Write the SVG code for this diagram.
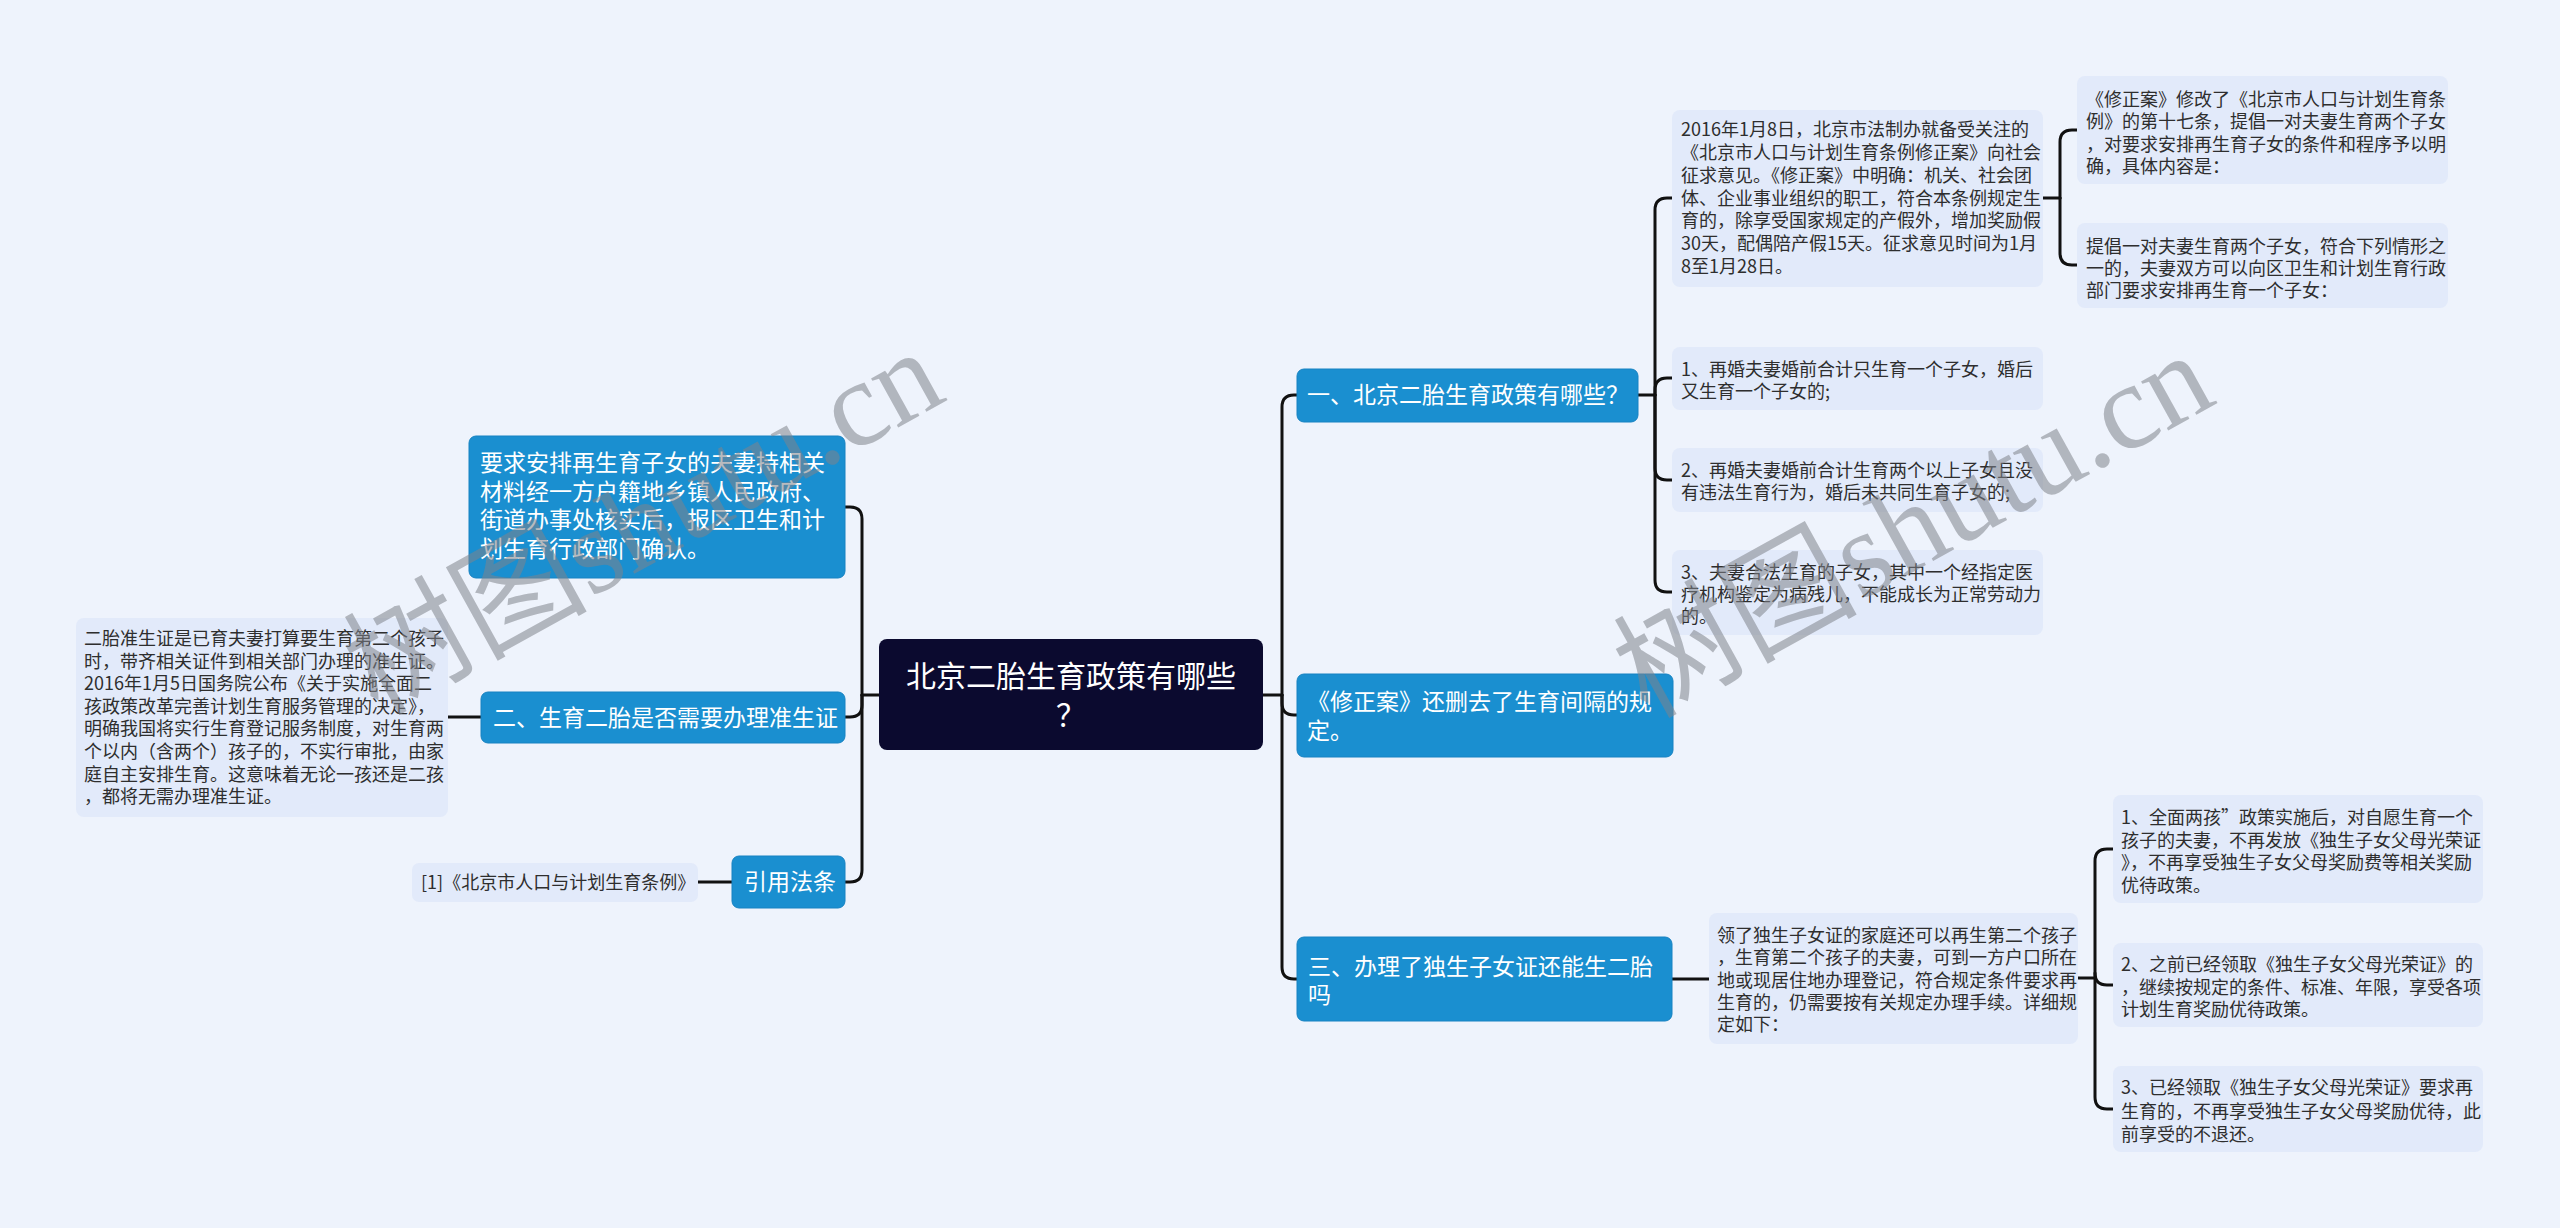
<svg xmlns="http://www.w3.org/2000/svg" width="2560" height="1228" viewBox="0 0 2560 1228">
<style>
.bg{fill:#eef3fc}
.root rect{fill:#0b0a2f}
.blue rect{fill:#1a8fd0;stroke:#1682c2;stroke-width:1}
.leaf rect{fill:#e2eafa}
text{font-family:"Noto Sans CJK SC","Liberation Sans",sans-serif}
.tr{font-size:30px;fill:#ffffff}
.tb{font-size:23px;fill:#ffffff}
.tl{font-size:18px;fill:#2e2e2e}
.conn path{fill:none;stroke:#111111;stroke-width:3;stroke-linecap:round}
.wm{font-family:"Liberation Serif","Noto Sans CJK SC",serif;font-size:122px;fill:#7f838b;fill-opacity:0.55}
</style>
<rect class="bg" x="0" y="0" width="2560" height="1228"/>

<g class="conn" id="connectors">
  <!-- right main -->
  <path d="M1263,695 H1282"/>
  <path d="M1282,695 V407 Q1282,395 1294,395 H1297"/>
  <path d="M1282,695 V703 Q1282,715 1294,715 H1297"/>
  <path d="M1282,695 V967 Q1282,979 1294,979 H1297"/>
  <!-- left main -->
  <path d="M879,695 H862"/>
  <path d="M862,695 V519 Q862,507 850,507 H845"/>
  <path d="M862,695 V705 Q862,717 850,717 H845"/>
  <path d="M862,695 V870 Q862,882 850,882 H845"/>
  <!-- left subs -->
  <path d="M481,717 H448"/>
  <path d="M732,882 H698"/>
  <!-- node one -->
  <path d="M1638,395 H1655"/>
  <path d="M1655,395 V210 Q1655,198 1667,198 H1672"/>
  <path d="M1655,395 V390 Q1655,378 1667,378 H1672"/>
  <path d="M1655,395 V468 Q1655,480 1667,480 H1672"/>
  <path d="M1655,395 V580 Q1655,592 1667,592 H1672"/>
  <!-- top text box -->
  <path d="M2043,198 H2060"/>
  <path d="M2060,198 V142 Q2060,130 2072,130 H2077"/>
  <path d="M2060,198 V253 Q2060,265 2072,265 H2077"/>
  <!-- node three -->
  <path d="M1672,979 H1709"/>
  <path d="M2078,978 H2095"/>
  <path d="M2095,978 V861 Q2095,849 2107,849 H2113"/>
  <path d="M2095,973 Q2095,985 2107,985 H2113"/>
  <path d="M2095,978 V1097 Q2095,1109 2107,1109 H2113"/>
</g>

<g id="root" class="root">
  <rect x="879" y="639" width="384" height="111" rx="8"/>
  <text class="tr" x="1071" y="687" text-anchor="middle">北京二胎生育政策有哪些</text>
  <text class="tr" x="1071" y="726" text-anchor="middle">？</text>
</g>

<g id="n-left-top" class="blue">
  <rect x="469" y="436" width="376" height="142" rx="7"/>
  <text class="tb" x="480" y="471">要求安排再生育子女的夫妻持相关</text>
  <text class="tb" x="480" y="500">材料经一方户籍地乡镇人民政府、</text>
  <text class="tb" x="480" y="528">街道办事处核实后，报区卫生和计</text>
  <text class="tb" x="480" y="557">划生育行政部门确认。</text>
</g>

<g id="n-two" class="blue">
  <rect x="481" y="692" width="364" height="51" rx="7"/>
  <text class="tb" x="493" y="726">二、生育二胎是否需要办理准生证</text>
</g>

<g id="n-two-detail" class="leaf">
  <rect x="76" y="618" width="372" height="199" rx="8"/>
  <text class="tl" x="84" y="645">二胎准生证是已育夫妻打算要生育第二个孩子</text>
  <text class="tl" x="84" y="667.6">时，带齐相关证件到相关部门办理的准生证。</text>
  <text class="tl" x="84" y="690.2">2016年1月5日国务院公布《关于实施全面二</text>
  <text class="tl" x="84" y="712.8">孩政策改革完善计划生育服务管理的决定》，</text>
  <text class="tl" x="84" y="735.4">明确我国将实行生育登记服务制度，对生育两</text>
  <text class="tl" x="84" y="758">个以内（含两个）孩子的，不实行审批，由家</text>
  <text class="tl" x="84" y="780.6">庭自主安排生育。这意味着无论一孩还是二孩</text>
  <text class="tl" x="84" y="803.2">，都将无需办理准生证。</text>
</g>

<g id="n-cite" class="blue">
  <rect x="732" y="856" width="113" height="52" rx="7"/>
  <text class="tb" x="744" y="890">引用法条</text>
</g>

<g id="n-cite-detail" class="leaf">
  <rect x="412" y="863" width="286" height="39" rx="7"/>
  <text class="tl" x="421" y="889">[1]《北京市人口与计划生育条例》</text>
</g>

<g id="n-one" class="blue">
  <rect x="1297" y="369" width="341" height="53" rx="7"/>
  <text class="tb" x="1307" y="403">一、北京二胎生育政策有哪些？</text>
</g>

<g id="n-one-a" class="leaf">
  <rect x="1672" y="110" width="371" height="177" rx="8"/>
  <text class="tl" x="1681" y="136">2016年1月8日，北京市法制办就备受关注的</text>
  <text class="tl" x="1681" y="158.8">《北京市人口与计划生育条例修正案》向社会</text>
  <text class="tl" x="1681" y="181.7">征求意见。《修正案》中明确：机关、社会团</text>
  <text class="tl" x="1681" y="204.5">体、企业事业组织的职工，符合本条例规定生</text>
  <text class="tl" x="1681" y="227.3">育的，除享受国家规定的产假外，增加奖励假</text>
  <text class="tl" x="1681" y="250.2">30天，配偶陪产假15天。征求意见时间为1月</text>
  <text class="tl" x="1681" y="273">8至1月28日。</text>
</g>

<g id="n-one-a1" class="leaf">
  <rect x="2077" y="76" width="371" height="108" rx="8"/>
  <text class="tl" x="2086" y="106">《修正案》修改了《北京市人口与计划生育条</text>
  <text class="tl" x="2086" y="128.3">例》的第十七条，提倡一对夫妻生育两个子女</text>
  <text class="tl" x="2086" y="150.7">，对要求安排再生育子女的条件和程序予以明</text>
  <text class="tl" x="2086" y="173">确，具体内容是：</text>
</g>

<g id="n-one-a2" class="leaf">
  <rect x="2077" y="223" width="371" height="85" rx="8"/>
  <text class="tl" x="2086" y="253">提倡一对夫妻生育两个子女，符合下列情形之</text>
  <text class="tl" x="2086" y="275">一的，夫妻双方可以向区卫生和计划生育行政</text>
  <text class="tl" x="2086" y="297">部门要求安排再生育一个子女：</text>
</g>

<g id="n-one-b" class="leaf">
  <rect x="1672" y="347" width="371" height="63" rx="8"/>
  <text class="tl" x="1681" y="376">1、再婚夫妻婚前合计只生育一个子女，婚后</text>
  <text class="tl" x="1681" y="398">又生育一个子女的;</text>
</g>

<g id="n-one-c" class="leaf">
  <rect x="1672" y="448" width="371" height="64" rx="8"/>
  <text class="tl" x="1681" y="477">2、再婚夫妻婚前合计生育两个以上子女且没</text>
  <text class="tl" x="1681" y="499">有违法生育行为，婚后未共同生育子女的;</text>
</g>

<g id="n-one-d" class="leaf">
  <rect x="1672" y="550" width="371" height="85" rx="8"/>
  <text class="tl" x="1681" y="579">3、夫妻合法生育的子女，其中一个经指定医</text>
  <text class="tl" x="1681" y="601">疗机构鉴定为病残儿，不能成长为正常劳动力</text>
  <text class="tl" x="1681" y="623">的。</text>
</g>

<g id="n-amend" class="blue">
  <rect x="1297" y="674" width="376" height="83" rx="7"/>
  <text class="tb" x="1307" y="710">《修正案》还删去了生育间隔的规</text>
  <text class="tb" x="1307" y="739">定。</text>
</g>

<g id="n-three" class="blue">
  <rect x="1297" y="937" width="375" height="84" rx="7"/>
  <text class="tb" x="1308" y="975">三、办理了独生子女证还能生二胎</text>
  <text class="tb" x="1308" y="1003">吗</text>
</g>

<g id="n-three-a" class="leaf">
  <rect x="1709" y="913" width="369" height="131" rx="8"/>
  <text class="tl" x="1717" y="942">领了独生子女证的家庭还可以再生第二个孩子</text>
  <text class="tl" x="1717" y="964">，生育第二个孩子的夫妻，可到一方户口所在</text>
  <text class="tl" x="1717" y="987">地或现居住地办理登记，符合规定条件要求再</text>
  <text class="tl" x="1717" y="1009">生育的，仍需要按有关规定办理手续。详细规</text>
  <text class="tl" x="1717" y="1031">定如下：</text>
</g>

<g id="n-three-a1" class="leaf">
  <rect x="2113" y="795" width="370" height="108" rx="8"/>
  <text class="tl" x="2121" y="824">1、全面两孩”政策实施后，对自愿生育一个</text>
  <text class="tl" x="2121" y="846.7">孩子的夫妻，不再发放《独生子女父母光荣证</text>
  <text class="tl" x="2121" y="869.3">》，不再享受独生子女父母奖励费等相关奖励</text>
  <text class="tl" x="2121" y="892">优待政策。</text>
</g>

<g id="n-three-a2" class="leaf">
  <rect x="2113" y="943" width="370" height="84" rx="8"/>
  <text class="tl" x="2121" y="971">2、之前已经领取《独生子女父母光荣证》的</text>
  <text class="tl" x="2121" y="993.5">，继续按规定的条件、标准、年限，享受各项</text>
  <text class="tl" x="2121" y="1016">计划生育奖励优待政策。</text>
</g>

<g id="n-three-a3" class="leaf">
  <rect x="2113" y="1066" width="370" height="86" rx="8"/>
  <text class="tl" x="2121" y="1094">3、已经领取《独生子女父母光荣证》要求再</text>
  <text class="tl" x="2121" y="1117.5">生育的，不再享受独生子女父母奖励优待，此</text>
  <text class="tl" x="2121" y="1141">前享受的不退还。</text>
</g>

<g id="watermarks">
  <text class="wm" transform="translate(655,512) rotate(-29)" x="-15" y="44" text-anchor="middle">树图shutu.cn</text>
  <text class="wm" transform="translate(1925,515) rotate(-29)" x="-15" y="44" text-anchor="middle">树图shutu.cn</text>
</g>
</svg>
